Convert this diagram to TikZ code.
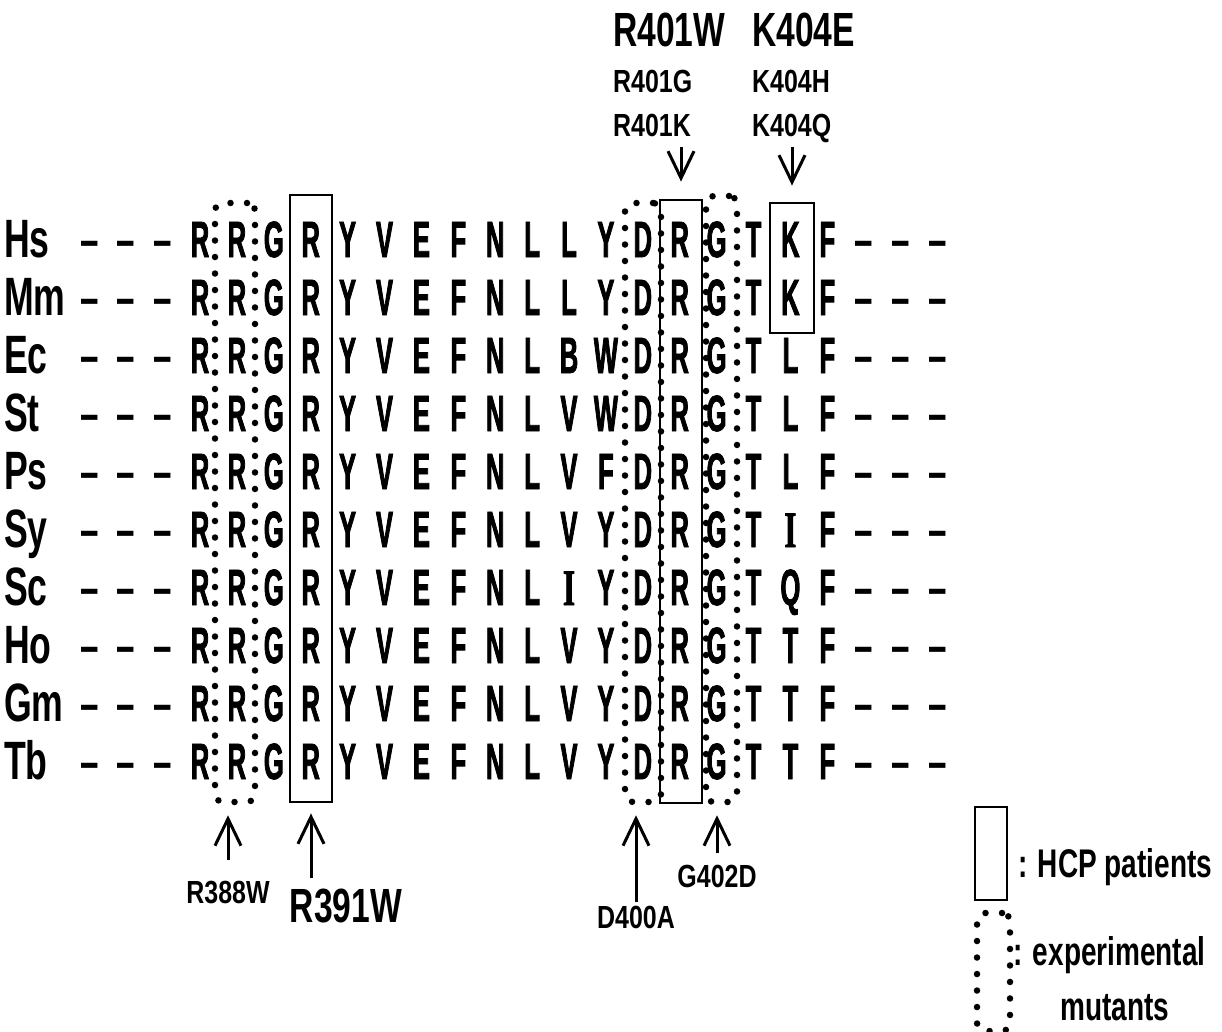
\documentclass[tikz,border=0pt]{standalone}
\usepackage{fontspec}
\usetikzlibrary{arrows.meta}

\newfontfamily\resfont{Liberation Sans}[FakeStretch=0.5,FakeBold=1.5]
\newfontfamily\gapfont{Liberation Sans}[FakeStretch=0.65]
\newfontfamily\serifres{Liberation Serif}[FakeStretch=0.6,FakeBold=1.5]
\newfontfamily\labfont{Liberation Sans}[FakeStretch=0.7]
\newfontfamily\spfont{Liberation Sans}[FakeStretch=0.66]
\newfontfamily\smlabfont{Liberation Sans}[FakeStretch=0.78]

\newcommand\resfnt{\resfont\bfseries\fontsize{51}{51}\selectfont}
\newcommand\spfnt{\spfont\bfseries\fontsize{54}{54}\selectfont}
\newcommand\bigfnt{\labfont\bfseries\fontsize{48}{48}\selectfont}
\newcommand\smallfnt{\smlabfont\bfseries\fontsize{32}{32}\selectfont}
\newcommand\legfnt{\labfont\bfseries\fontsize{40}{40}\selectfont}
\newcommand\serifI{{\serifres\bfseries I}}
\newcommand\gapmark{{\gapfont\bfseries –}}

\tikzset{
  residue/.style={font=\resfnt, anchor=base, inner sep=0pt},
  species/.style={font=\spfnt, anchor=base west, inner sep=0pt},
  bigmut/.style={font=\bigfnt, anchor=base west, inner sep=0pt, text depth=0pt},
  smallmut/.style={font=\smallfnt, anchor=base west, inner sep=0pt, text depth=0pt},
  legtext/.style={font=\legfnt, inner sep=0pt},
  hcpbox/.style={draw, line width=2.8pt, inner sep=0pt},
  expbox/.style={draw, line width=6.5pt, line cap=round, dash pattern=on 0pt off 16.5pt,
    rounded corners=8pt, inner sep=0pt},
  mutarrow/.style={line width=3pt, -{Straight Barb[length=27pt,width=26pt]}}
}

\begin{document}
\begin{tikzpicture}[x=1pt,y=-1pt]
    \useasboundingbox (0,0) rectangle (1222,1032);
    % Grid of the alignment
    \def\colzero{200}
    \def\colstep{36.9}
    \def\rowbase{257}
    \def\rowstep{58}

    % Aligned sequences
    \foreach \sp/\seq [count=\k from 0] in {
      Hs/{R,R,G,R,Y,V,E,F,N,L,L,Y,D,R,G,T,K,F},
      Mm/{R,R,G,R,Y,V,E,F,N,L,L,Y,D,R,G,T,K,F},
      Ec/{R,R,G,R,Y,V,E,F,N,L,B,W,D,R,G,T,L,F},
      St/{R,R,G,R,Y,V,E,F,N,L,V,W,D,R,G,T,L,F},
      Ps/{R,R,G,R,Y,V,E,F,N,L,V,F,D,R,G,T,L,F},
      Sy/{R,R,G,R,Y,V,E,F,N,L,V,Y,D,R,G,T,\serifI,F},
      Sc/{R,R,G,R,Y,V,E,F,N,L,\serifI,Y,D,R,G,T,Q,F},
      Ho/{R,R,G,R,Y,V,E,F,N,L,V,Y,D,R,G,T,T,F},
      Gm/{R,R,G,R,Y,V,E,F,N,L,V,Y,D,R,G,T,T,F},
      Tb/{R,R,G,R,Y,V,E,F,N,L,V,Y,D,R,G,T,T,F}}{
      \node[species] (\sp) at (4,\rowbase+\k*\rowstep) {\sp};
      \foreach \d in {-3,-2,-1,18,19,20}
        \node[residue] (\sp-d\d) at (\colzero+\d*\colstep,\rowbase+\k*\rowstep) {\gapmark};
      \foreach \aa [count=\i from 0] in \seq
        \node[residue] (\sp-\i) at (\colzero+\i*\colstep,\rowbase+\k*\rowstep) {\aa};
    }

    % Residues found in HCP patients
    \node[hcpbox, minimum width=42pt, minimum height=607pt] (box391) at (311,498.5) {};
    \node[hcpbox, minimum width=42pt, minimum height=603pt] (box401) at (681,501.5) {};
    \node[hcpbox, minimum width=44pt, minimum height=130pt] (box404) at (792,268) {};

    % Experimental mutants
    \node[expbox, minimum width=40pt, minimum height=599pt] (box388) at (235,502.5) {};
    \node[expbox, minimum width=36pt, minimum height=599pt] (box400) at (643,502.5) {};
    \node[expbox, minimum width=31pt, minimum height=606pt] (box402) at (721.5,499) {};

    % Mutations above
    \node[bigmut] (lab401w) at (613,47) {R401W};
    \node[smallmut] (lab401g) at (613,93) {R401G};
    \node[smallmut] (lab401k) at (613,137) {R401K};
    \node[bigmut] (lab404e) at (752,47) {K404E};
    \node[smallmut] (lab404h) at (752,93) {K404H};
    \node[smallmut] (lab404q) at (752,137) {K404Q};
    \draw[mutarrow, shorten <=10pt, shorten >=17pt] (box401.north |- lab401k.south) -- (box401.north);
    \draw[mutarrow, shorten <=10pt, shorten >=16pt] (box404.north |- lab404q.south) -- (box404.north);

    % Mutations below
    \node[smallmut, anchor=base] (lab388) at (228,903) {R388W};
    \node[bigmut, anchor=base] (lab391) at (346,922) {R391W};
    \node[smallmut, anchor=base] (lab400) at (636,928) {D400A};
    \node[smallmut, anchor=base] (lab402) at (717,887) {G402D};
    \draw[mutarrow, shorten <=20pt, shorten >=10pt] (lab388.north) -- (lab388.north |- box388.south);
    \draw[mutarrow, shorten <=10pt, shorten >=10pt] (box391.south |- lab391.north) -- (box391.south);
    \draw[mutarrow, shorten <=3pt, shorten >=10pt] (lab400.north) -- (lab400.north |- box400.south);
    \draw[mutarrow, shorten <=11pt, shorten >=10pt] (lab402.north) -- (lab402.north |- box402.south);

    % Legend
    \node[hcpbox, minimum width=32pt, minimum height=93pt] (leghcp) at (991,853.5) {};
    \node[legtext, anchor=base west] (leghcptext) at (1018,877) {: HCP patients};
    \node[expbox, minimum width=33pt, minimum height=118pt] (legexp) at (993.5,972) {};
    \node[legtext, anchor=base west] (legexptext) at (1013,965) {: experimental};
    \node[legtext, anchor=base] (legmuttext) at (1115,1020) {mutants};
\end{tikzpicture}
\end{document}
